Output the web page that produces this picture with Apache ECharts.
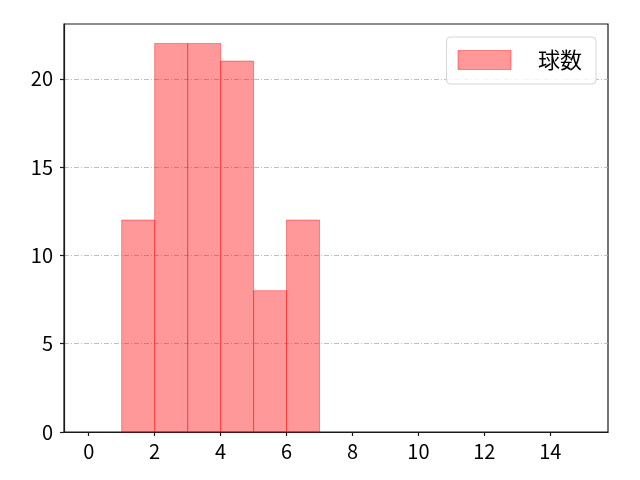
<!DOCTYPE html>
<html>
<head>
<meta charset="utf-8">
<script src="https://cdn.jsdelivr.net/npm/echarts@6/dist/echarts.min.js"></script>
<style>html,body{margin:0;padding:0;background:#fff}#c{width:640px;height:480px}</style>
</head>
<body>
<div id="c"></div>
<script>
var binStarts = [1, 2, 3, 4, 5, 6];
var binEnds = [2, 3, 4, 5, 6, 7];
var counts = [12, 22, 22, 21, 8, 12];
var seriesName = '球数';
var xTicks = [0, 2, 4, 6, 8, 10, 12, 14];
var yTicks = [0, 5, 10, 15, 20];

var data = binStarts.map(function (s, i) { return [s, binEnds[i], counts[i]]; });
var font = '"Noto Sans CJK JP", "DejaVu Sans", sans-serif';
var chart = echarts.init(document.getElementById('c'), null, {renderer: 'canvas'});
chart.setOption({
  animation: false,
  backgroundColor: '#fff',
  grid: {left: 64, right: 32, top: 24, bottom: 48, show: true, borderColor: '#1a1a1a', borderWidth: 1.2, backgroundColor: 'transparent'},
  legend: {
    right: 44, top: 37,
    padding: [12, 14, 13, 11],
    backgroundColor: 'rgba(255,255,255,0.8)',
    borderColor: '#d6d6d6', borderWidth: 1, borderRadius: 4,
    itemWidth: 53, itemHeight: 19,
    textStyle: {fontFamily: font, fontSize: 22, color: '#000', padding: [0, 0, 0, 22]},
    data: [{name: seriesName, icon: 'rect', itemStyle: {color: 'rgba(255,0,0,0.4)', borderColor: 'rgba(255,0,0,0.4)', borderWidth: 1}}]
  },
  xAxis: {
    type: 'value', min: -0.75, max: 15.75,
    axisLine: {show: true, onZero: false, lineStyle: {color: '#1a1a1a', width: 1.2}},
    axisTick: {show: true, inside: false, length: 4, lineStyle: {color: '#1a1a1a', width: 1.2}, customValues: xTicks},
    axisLabel: {customValues: xTicks, color: '#000', fontFamily: font, fontSize: 20, margin: 9},
    splitLine: {show: false}
  },
  yAxis: {
    type: 'value', min: 0, max: 23.1,
    axisLine: {show: true, onZero: false, lineStyle: {color: '#1a1a1a', width: 1.2}},
    axisTick: {show: true, inside: false, length: 4, lineStyle: {color: '#1a1a1a', width: 1.2}, customValues: yTicks},
    axisLabel: {customValues: yTicks, color: '#000', fontFamily: font, fontSize: 20, margin: 11},
    splitLine: {show: true, lineStyle: {color: '#b0b0b0', width: 0.8, type: [5, 2, 1, 2]}}
  },
  series: [{
    name: seriesName,
    type: 'custom',
    encode: {x: [0, 1], y: 2},
    data: data,
    z: 3,
    renderItem: function (params, api) {
      var p0 = api.coord([api.value(0), api.value(2)]);
      var p1 = api.coord([api.value(1), 0]);
      return {
        type: 'rect',
        shape: {x: p0[0], y: p0[1], width: p1[0] - p0[0], height: p1[1] - p0[1]},
        style: {fill: 'rgba(255,0,0,0.4)', stroke: 'rgba(255,0,0,0.4)', lineWidth: 1}
      };
    }
  }]
});
</script>
</body>
</html>
